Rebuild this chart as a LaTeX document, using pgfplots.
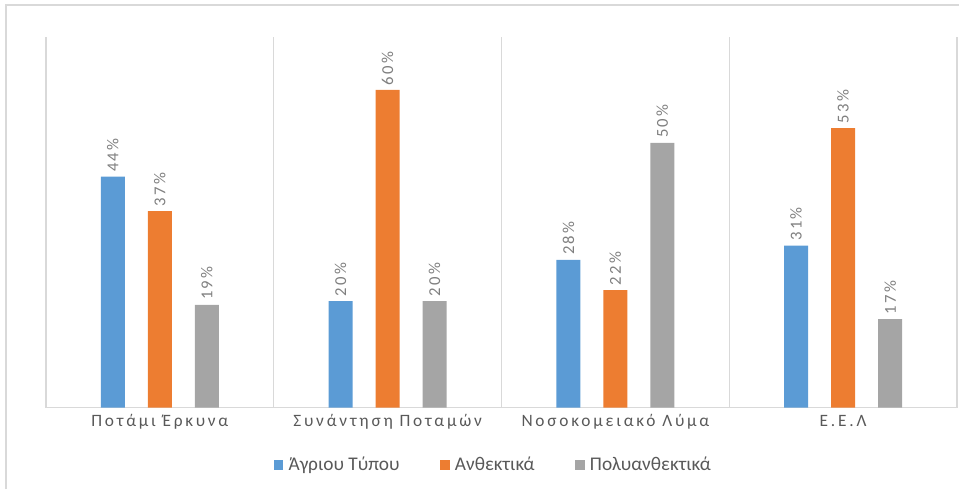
\documentclass[border=0pt]{standalone}
\usepackage{fontspec}
\setmainfont{Carlito}
\newfontfamily\spaced[LetterSpace=16]{Carlito}
\newfontfamily\spacedlab[LetterSpace=14]{Carlito}
\usepackage{pgfplots}
\pgfplotsset{compat=1.18}
\definecolor{cblue}{HTML}{5B9BD5}
\definecolor{corange}{HTML}{ED7D31}
\definecolor{cgray}{HTML}{A5A5A5}
\definecolor{gridc}{HTML}{D9D9D9}
\definecolor{txt}{HTML}{595959}
\definecolor{lab}{HTML}{7F7F7F}
\begin{document}
\begin{tikzpicture}
\path[use as bounding box] (0,0) rectangle (719.25pt,366.75pt);
\draw[gridc, line width=1.4pt] (4.5pt,0) -- (4.5pt,363pt) -- (719.25pt,363pt);
\begin{axis}[
  at={(34.5pt,61.1pt)}, anchor=south west,
  scale only axis,
  width=683.25pt, height=277.9pt,
  ybar, bar width=18pt, ybar=17.25pt,
  xmin=-0.5, xmax=3.5, ymin=0, ymax=70,
  axis y line=none,
  axis x line*=bottom,
  x axis line style={gridc, line width=1pt, -},
  xtick={0,1,2,3},
  xticklabels={Ποτάμι Έρκυνα, Συνάντηση Ποταμών, Νοσοκομειακό Λύμα, Ε.Ε.Λ},
  major tick length=0pt,
  minor xtick={-0.5,0.5,1.5,2.5,3.5},
  minor tick length=0pt,
  xminorgrids,
  minor grid style={gridc, line width=1pt},
  xticklabel style={anchor=base, yshift=-14.5pt, font=\spaced\fontsize{13}{15}\selectfont, text=txt},
  /pgf/number format/assume math mode=true,
  nodes near coords={\pgfmathprintnumber[fixed,precision=0,assume math mode=true]{\pgfplotspointmeta}\%},
  nodes near coords style={rotate=90, anchor=west, inner sep=3.5pt, font=\spacedlab\fontsize{12.5}{14}\selectfont, text=lab},
  legend columns=3,
  legend style={draw=none, at={(0.4914,-0.155)}, anchor=center, font=\fontsize{14.5}{16}\selectfont, text=txt,
    /tikz/every even column/.append style={column sep=28.5pt},
    /tikz/every odd column/.append style={column sep=2pt}},
  legend image code/.code={\fill[#1] (0pt,-3.5pt) rectangle (7pt,3.5pt);},
]
\addplot[draw=none, fill=cblue] coordinates {(0,43.6) (1,20.1) (2,27.9) (3,30.6)};
\addplot[draw=none, fill=corange] coordinates {(0,37.1) (1,60.0) (2,22.2) (3,52.8)};
\addplot[draw=none, fill=cgray] coordinates {(0,19.4) (1,20.1) (2,50.0) (3,16.7)};
\legend{Άγριου Τύπου, Ανθεκτικά, Πολυανθεκτικά}
\end{axis}
\end{tikzpicture}
\end{document}
